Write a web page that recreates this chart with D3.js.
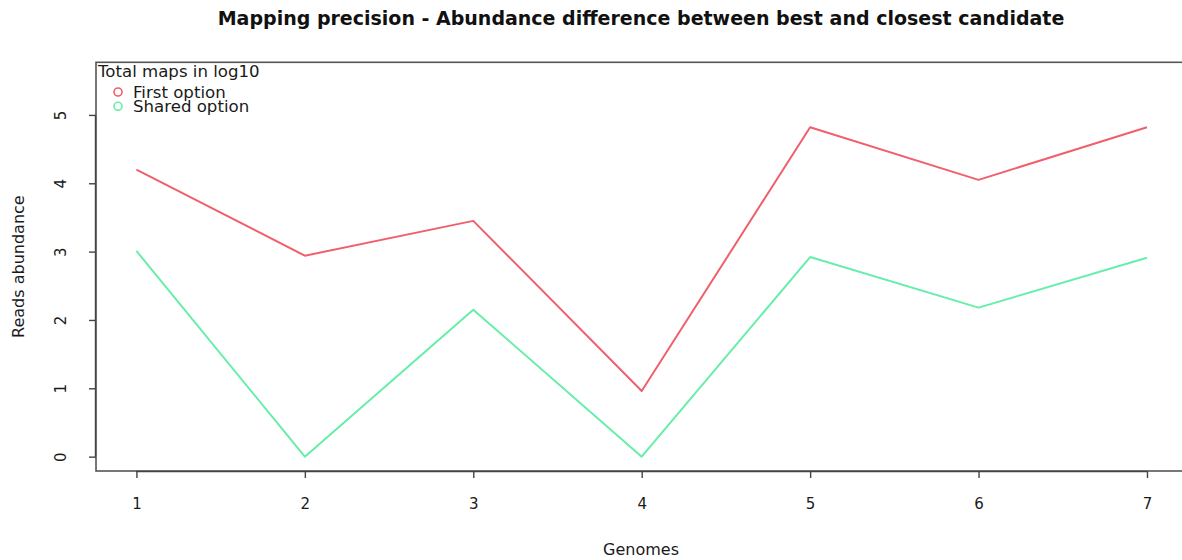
<!DOCTYPE html>
<html>
<head>
<meta charset="utf-8">
<script src="https://cdn.jsdelivr.net/npm/d3@7"></script>
<style>
  html, body { margin: 0; padding: 0; background: #fff; }
  svg { display: block; }
  text { font-family: "DejaVu Sans", "Liberation Sans", sans-serif; fill: #1a1a1a; }
</style>
</head>
<body>
<svg id="chart" width="1182" height="560"></svg>
<script>
// Genome index on the x axis
const genomes = [1, 2, 3, 4, 5, 6, 7];
// Total maps (log10) for each mapping option
const firstOption  = [4.20, 2.94, 3.45, 0.96, 4.82, 4.05, 4.82];
const sharedOption = [3.01, 0.00, 2.15, 0.00, 2.92, 2.18, 2.91];
const yTicks = [0, 1, 2, 3, 4, 5];
const seriesNames = ["First option", "Shared option"];
const seriesColors = ["#f0606c", "#66eeaa"];

const svg = d3.select("#chart");

// Plot region follows R's default 4% padding around the data range
const x = d3.scaleLinear().domain([0.76, 7.24]).range([96, 1187.4]);
const y = d3.scaleLinear().domain([-0.21, 5.77]).range([471, 62.3]);

// Title
svg.append("text")
  .attr("x", 641).attr("y", 25)
  .attr("text-anchor", "middle")
  .style("font-weight", "bold")
  .style("font-size", "19px")
  .style("fill", "#111")
  .text("Mapping precision - Abundance difference between best and closest candidate");

// Series lines
const line = d3.line().x((d, i) => x(genomes[i])).y(d => y(d));
[firstOption, sharedOption].forEach((vals, k) => {
  svg.append("path")
    .datum(vals)
    .attr("d", line)
    .attr("fill", "none")
    .attr("stroke", seriesColors[k])
    .attr("stroke-width", 2)
    .attr("stroke-linejoin", "round");
});

// Plot box
svg.append("rect")
  .attr("x", x.range()[0]).attr("y", y.range()[1])
  .attr("width", x.range()[1] - x.range()[0])
  .attr("height", y.range()[0] - y.range()[1])
  .attr("fill", "none")
  .attr("stroke", "#555")
  .attr("stroke-width", 1.6);

// X axis
const xAxis = d3.axisBottom(x).tickValues(genomes).tickFormat(d3.format("d"))
  .tickSize(7).tickPadding(20).tickSizeOuter(0);
const gx = svg.append("g").attr("transform", `translate(0,${y.range()[0]})`).call(xAxis);
gx.select(".domain").attr("d", `M${x(1)},0.5H${x(7)}`).attr("stroke", "#444").attr("stroke-width", 1.4);
gx.selectAll(".tick line").attr("stroke", "#444").attr("stroke-width", 1.4);
gx.selectAll(".tick text").style("font-size", "15px").style("font-family", "DejaVu Sans").attr("fill", "#1a1a1a");

// Y axis with labels parallel to the axis
const yAxis = d3.axisLeft(y).tickValues(yTicks).tickFormat(d3.format("d"))
  .tickSize(7).tickSizeOuter(0);
const gy = svg.append("g").attr("transform", `translate(${x.range()[0]},0)`).call(yAxis);
gy.select(".domain").attr("d", `M-0.5,${y(0)}V${y(5)}`).attr("stroke", "#444").attr("stroke-width", 1.4);
gy.selectAll(".tick line").attr("stroke", "#444").attr("stroke-width", 1.4);
gy.selectAll(".tick text")
  .attr("x", null).attr("dy", null)
  .attr("text-anchor", "middle")
  .attr("transform", "translate(-30,0) rotate(-90)")
  .style("font-size", "15px").style("font-family", "DejaVu Sans").attr("fill", "#1a1a1a");

// Axis titles
svg.append("text")
  .attr("x", 641).attr("y", 555)
  .attr("text-anchor", "middle")
  .style("font-size", "16px")
  .text("Genomes");
svg.append("text")
  .attr("transform", `translate(24,${(y.range()[0] + y.range()[1]) / 2}) rotate(-90)`)
  .attr("text-anchor", "middle")
  .style("font-size", "16px")
  .text("Reads abundance");

// Legend
const lg = svg.append("g");
lg.append("text").attr("x", 98).attr("y", 77).style("font-size", "16.6px").text("Total maps in log10");
seriesNames.forEach((name, i) => {
  const cy = 92 + i * 14.3;
  lg.append("circle").attr("cx", 118).attr("cy", cy).attr("r", 4)
    .attr("fill", "none").attr("stroke", seriesColors[i]).attr("stroke-width", 1.6);
  lg.append("text").attr("x", 133).attr("y", cy + 6).style("font-size", "16.6px").text(name);
});
</script>
</body>
</html>
